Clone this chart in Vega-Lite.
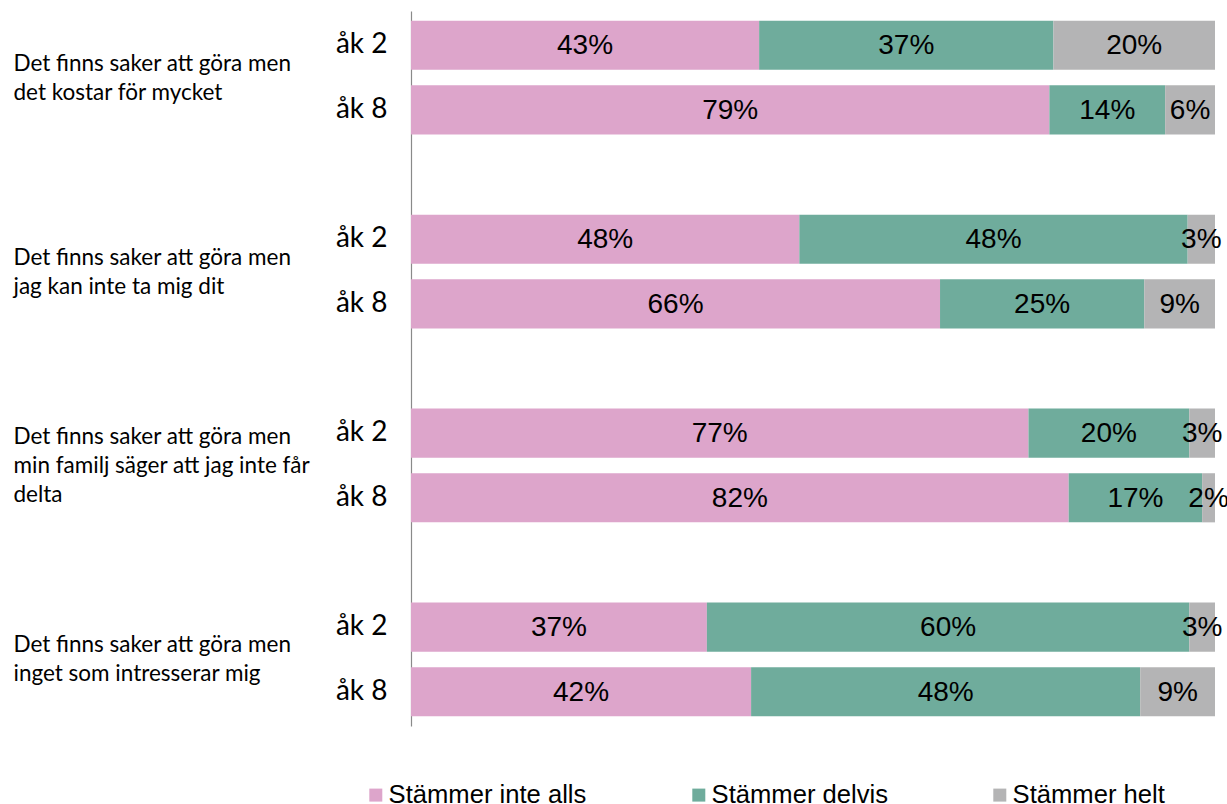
{
  "$schema": "https://vega.github.io/schema/vega-lite/v6.json",
  "width": 804,
  "height": 715,
  "autosize": {"type": "none"},
  "padding": {"left": 411, "top": 11, "right": 12, "bottom": 78},
  "background": "white",
  "config": {"view": {"stroke": null}, "font": "Liberation Sans"},
  "data": {"values": [
    {"question": "Det finns saker att göra men\ndet kostar för mycket", "item": "1 åk 2", "answer": "Stämmer inte alls", "code": 1, "share": 0.433},
    {"question": "Det finns saker att göra men\ndet kostar för mycket", "item": "1 åk 2", "answer": "Stämmer delvis", "code": 2, "share": 0.366},
    {"question": "Det finns saker att göra men\ndet kostar för mycket", "item": "1 åk 2", "answer": "Stämmer helt", "code": 3, "share": 0.201},
    {"question": "Det finns saker att göra men\ndet kostar för mycket", "item": "1 åk 8", "answer": "Stämmer inte alls", "code": 1, "share": 0.794},
    {"question": "Det finns saker att göra men\ndet kostar för mycket", "item": "1 åk 8", "answer": "Stämmer delvis", "code": 2, "share": 0.144},
    {"question": "Det finns saker att göra men\ndet kostar för mycket", "item": "1 åk 8", "answer": "Stämmer helt", "code": 3, "share": 0.062},
    {"question": "Det finns saker att göra men\njag kan inte ta mig dit", "item": "2 åk 2", "answer": "Stämmer inte alls", "code": 1, "share": 0.483},
    {"question": "Det finns saker att göra men\njag kan inte ta mig dit", "item": "2 åk 2", "answer": "Stämmer delvis", "code": 2, "share": 0.483},
    {"question": "Det finns saker att göra men\njag kan inte ta mig dit", "item": "2 åk 2", "answer": "Stämmer helt", "code": 3, "share": 0.034},
    {"question": "Det finns saker att göra men\njag kan inte ta mig dit", "item": "2 åk 8", "answer": "Stämmer inte alls", "code": 1, "share": 0.658},
    {"question": "Det finns saker att göra men\njag kan inte ta mig dit", "item": "2 åk 8", "answer": "Stämmer delvis", "code": 2, "share": 0.254},
    {"question": "Det finns saker att göra men\njag kan inte ta mig dit", "item": "2 åk 8", "answer": "Stämmer helt", "code": 3, "share": 0.088},
    {"question": "Det finns saker att göra men\nmin familj säger att jag inte får\ndelta", "item": "3 åk 2", "answer": "Stämmer inte alls", "code": 1, "share": 0.768},
    {"question": "Det finns saker att göra men\nmin familj säger att jag inte får\ndelta", "item": "3 åk 2", "answer": "Stämmer delvis", "code": 2, "share": 0.200},
    {"question": "Det finns saker att göra men\nmin familj säger att jag inte får\ndelta", "item": "3 åk 2", "answer": "Stämmer helt", "code": 3, "share": 0.032},
    {"question": "Det finns saker att göra men\nmin familj säger att jag inte får\ndelta", "item": "3 åk 8", "answer": "Stämmer inte alls", "code": 1, "share": 0.818},
    {"question": "Det finns saker att göra men\nmin familj säger att jag inte får\ndelta", "item": "3 åk 8", "answer": "Stämmer delvis", "code": 2, "share": 0.166},
    {"question": "Det finns saker att göra men\nmin familj säger att jag inte får\ndelta", "item": "3 åk 8", "answer": "Stämmer helt", "code": 3, "share": 0.016},
    {"question": "Det finns saker att göra men\ninget som intresserar mig", "item": "4 åk 2", "answer": "Stämmer inte alls", "code": 1, "share": 0.368},
    {"question": "Det finns saker att göra men\ninget som intresserar mig", "item": "4 åk 2", "answer": "Stämmer delvis", "code": 2, "share": 0.600},
    {"question": "Det finns saker att göra men\ninget som intresserar mig", "item": "4 åk 2", "answer": "Stämmer helt", "code": 3, "share": 0.032},
    {"question": "Det finns saker att göra men\ninget som intresserar mig", "item": "4 åk 8", "answer": "Stämmer inte alls", "code": 1, "share": 0.423},
    {"question": "Det finns saker att göra men\ninget som intresserar mig", "item": "4 åk 8", "answer": "Stämmer delvis", "code": 2, "share": 0.484},
    {"question": "Det finns saker att göra men\ninget som intresserar mig", "item": "4 åk 8", "answer": "Stämmer helt", "code": 3, "share": 0.093}
  ]},
  "layer": [
    {
      "layer": [
        {
          "mark": {"type": "bar"},
          "encoding": {
            "y": {
              "field": "item", "type": "nominal",
              "scale": {"domain": ["1 åk 2", "1 åk 8", "s1", "2 åk 2", "2 åk 8", "s2", "3 åk 2", "3 åk 8", "s3", "4 åk 2", "4 åk 8"], "paddingInner": 0.24, "paddingOuter": 0.15},
              "axis": {
                "title": null, "orient": "left", "grid": false,
                "domain": true, "domainColor": "#8a8a8a", "domainWidth": 1.2,
                "ticks": false, "tickSize": 0, "labelPadding": 24,
                "labelExpr": "length(datum.value) > 2 ? slice(datum.value, 2) : ''",
                "labelFont": "Lato", "labelFontSize": 28, "labelColor": "#000000",
                "labelAlign": "right", "labelBaseline": "middle", "labelLimit": 300
              }
            },
            "x": {"field": "share", "type": "quantitative", "stack": "zero", "scale": {"domain": [0, 1]}, "axis": null},
            "order": {"field": "code", "type": "quantitative", "sort": "ascending"},
            "color": {
              "field": "answer", "type": "nominal",
              "scale": {"domain": ["Stämmer inte alls", "Stämmer delvis", "Stämmer helt"], "range": ["#dda5cb", "#6fac9c", "#b4b4b5"]},
              "legend": {
                "orient": "none", "legendX": -48, "legendY": 771, "direction": "horizontal",
                "title": null, "symbolType": "square", "symbolSize": 169, "symbolStrokeWidth": 0,
                "labelFont": "Liberation Sans", "labelFontSize": 25.6, "labelColor": "#000000",
                "labelOffset": 0, "columnPadding": 99, "labelLimit": 400
              }
            }
          }
        },
        {
          "mark": {"type": "text", "font": "Liberation Sans", "fontSize": 28, "color": "#000000", "align": "center", "baseline": "middle", "dy": 1},
          "encoding": {
            "y": {"field": "item", "type": "nominal"},
            "x": {"field": "share", "type": "quantitative", "stack": "zero", "bandPosition": 0.5},
            "order": {"field": "code", "type": "quantitative", "sort": "ascending"},
            "text": {"field": "share", "type": "quantitative", "format": ".0%"}
          }
        }
      ]
    },
    {
      "mark": {"type": "point", "opacity": 0},
      "encoding": {
        "y": {
          "field": "question", "type": "nominal", "sort": null,
          "scale": {"type": "point", "padding": 0.343},
          "axis": {
            "title": null, "orient": "left", "grid": false, "domain": false,
            "ticks": false, "tickSize": 0, "labelPadding": 398,
            "labelExpr": "split(datum.value, '\\n')",
            "labelOffset": {"condition": {"test": "indexof(datum.value, 'delta') >= 0", "value": -29}, "value": -14.5},
            "labelFont": "Lato", "labelFontSize": 22.5, "labelLineHeight": 29,
            "labelColor": "#000000", "labelAlign": "left", "labelBaseline": "middle", "labelLimit": 400
          }
        }
      }
    }
  ],
  "resolve": {"scale": {"y": "independent"}, "axis": {"y": "independent"}}
}
